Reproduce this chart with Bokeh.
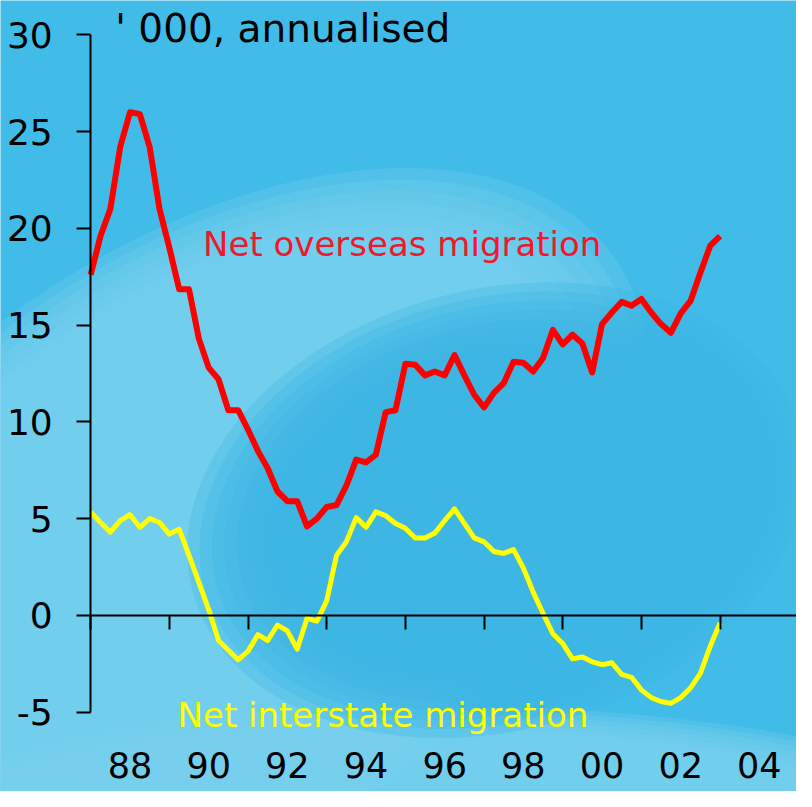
from bokeh.plotting import figure
from bokeh.models import LinearAxis, FixedTicker, Range1d, Label
from bokeh.embed import file_html
from bokeh.resources import INLINE

# ---------------- data (thousands, annualised, quarterly from 1987) ----------------
start_year = 1987.0
overseas = [17.6, 19.6, 21.0, 24.2, 26.0, 25.9, 24.2, 21.0,
            19.0, 16.85, 16.85, 14.3, 12.8, 12.2, 10.6, 10.6,
            9.6, 8.5, 7.6, 6.4, 5.9, 5.9, 4.6, 5.0,
            5.6, 5.7, 6.7, 8.05, 7.9, 8.3, 10.5, 10.6,
            13.0, 12.95, 12.4, 12.6, 12.4, 13.45, 12.4, 11.4,
            10.75, 11.5, 12.0, 13.1, 13.05, 12.6, 13.3, 14.75,
            14.0, 14.5, 14.05, 12.55, 15.05, 15.65, 16.2, 16.0,
            16.35, 15.65, 15.05, 14.6, 15.6, 16.25, 17.7, 19.1,
            19.6]
interstate = [5.35, 4.8, 4.3, 4.9, 5.2, 4.55, 5.0, 4.8,
              4.2, 4.45, 3.1, 1.7, 0.3, -1.3, -1.8, -2.3,
              -1.85, -1.0, -1.3, -0.5, -0.8, -1.75, -0.15, -0.3,
              0.75, 3.1, 3.8, 5.05, 4.55, 5.35, 5.15, 4.75,
              4.5, 4.0, 4.0, 4.25, 4.9, 5.5, 4.75, 4.0,
              3.8, 3.3, 3.2, 3.4, 2.45, 1.2, 0.1, -0.95,
              -1.45, -2.25, -2.15, -2.4, -2.55, -2.45, -3.05, -3.2,
              -3.85, -4.25, -4.45, -4.55, -4.25, -3.75, -3.0, -1.6,
              -0.4]
quarters = [start_year + 0.25 * i for i in range(len(overseas))]

y_ticks = [-5, 0, 5, 10, 15, 20, 25, 30]
y_tick_labels = ["-5", "0", "5", "10", "15", "20", "25", "30"]
x_label_years = [1988, 1990, 1992, 1994, 1996, 1998, 2000, 2002, 2004]
x_labels = ["88", "90", "92", "94", "96", "98", "00", "02", "04"]
zero_line_ticks = [1987, 1989, 1991, 1993, 1995, 1997, 1999, 2001, 2003]

title_text = "' 000, annualised"
overseas_label = "Net overseas migration"
interstate_label = "Net interstate migration"

# ---------------- geometry (canvas = reference picture scaled) ----------------
W, H = 796, 791
SX = W / 812
SY = H / 807
PX_PER_YEAR = 40.125 * SX
PX_PER_UNIT = 19.743 * SY
x_start = 1987.0 - (92 * SX) / PX_PER_YEAR
x_end = x_start + W / PX_PER_YEAR
y_end = 30 + (35 * SY) / PX_PER_UNIT
y_start = y_end - H / PX_PER_UNIT

BASE = "#41BBE7"
LIGHT = "#78CFEF"
DARK = "#3CB7E4"
FONT = "DejaVu Sans"

p = figure(width=W, height=H, x_range=Range1d(x_start, x_end),
           y_range=Range1d(y_start, y_end), x_axis_type=None, y_axis_type=None,
           toolbar_location=None, output_backend="svg", min_border=0,
           background_fill_color=BASE, border_fill_color=BASE,
           outline_line_color=None)


def rx(x):
    """reference-picture x pixel -> data x"""
    return x_start + (x * SX) / PX_PER_YEAR


def ry(y):
    """reference-picture y pixel -> data y"""
    return y_end - (y * SY) / PX_PER_UNIT


def soft_ellipse(cx, cy, w, h, angle, color, layers=7, alpha=0.3, shrink=0.03):
    for k in range(layers):
        f = 1 - k * shrink
        p.ellipse(x=[rx(cx)], y=[ry(cy)], width=[w * SX * f], height=[h * SY * f],
                  width_units="screen", height_units="screen",
                  angle=angle, angle_units="deg",
                  fill_color=color, fill_alpha=alpha, line_color=None)


# background swirl (decoration only)
soft_ellipse(200, 560, 1040, 610, 35, LIGHT)
soft_ellipse(450, 870, 1200, 300, 0, LIGHT)
soft_ellipse(505, 520, 640, 450, 15, DARK, layers=8, alpha=0.33, shrink=0.04)

# ---------------- series ----------------
p.line(quarters, overseas, line_color="#FF0000", line_width=6, line_join="round")
p.line(quarters, interstate, line_color="#FFFF00", line_width=5, line_join="round")

# ---------------- axes ----------------
yax = LinearAxis(fixed_location=1987.0, ticker=FixedTicker(ticks=y_ticks),
                 bounds=(-5, 30),
                 major_label_overrides=dict(zip(y_ticks, y_tick_labels)),
                 axis_line_color="black", axis_line_width=2,
                 major_tick_line_color="black", major_tick_line_width=2,
                 major_tick_out=14, major_tick_in=0,
                 minor_tick_line_color=None,
                 major_label_standoff=24,
                 major_label_text_font=FONT, major_label_text_font_size="36px",
                 major_label_text_color="black")
p.add_layout(yax, "left")

zax = LinearAxis(fixed_location=0, ticker=FixedTicker(ticks=zero_line_ticks),
                 bounds=(1987.0, x_end),
                 major_label_overrides={t: "" for t in zero_line_ticks},
                 axis_line_color="black", axis_line_width=2,
                 major_tick_line_color="black", major_tick_line_width=2,
                 major_tick_out=14, major_tick_in=0,
                 minor_tick_line_color=None,
                 major_label_text_font_size="1px")
p.add_layout(zax, "below")

bax = LinearAxis(fixed_location=y_end - 747 / PX_PER_UNIT,
                 ticker=FixedTicker(ticks=x_label_years),
                 major_label_overrides=dict(zip(x_label_years, x_labels)),
                 axis_line_color=None, major_tick_line_color=None,
                 major_tick_out=0, major_tick_in=0, minor_tick_line_color=None,
                 major_label_standoff=4,
                 major_label_text_font=FONT, major_label_text_font_size="35px",
                 major_label_text_color="black")
p.add_layout(bax, "below")

# ---------------- texts ----------------
p.add_layout(Label(x=rx(117), y=ry(29), text=title_text,
                   text_font=FONT, text_font_size="39px", text_color="black",
                   text_baseline="alphabetic"))
p.add_layout(Label(x=rx(206.6), y=ry(248), text=overseas_label,
                   text_font=FONT, text_font_size="34px", text_color="#F0182C",
                   text_baseline="alphabetic"))
p.add_layout(Label(x=rx(180.6), y=ry(729), text=interstate_label,
                   text_font=FONT, text_font_size="34px", text_color="#FFFF00",
                   text_baseline="alphabetic"))

open("out.html", "w").write(file_html(p, INLINE))
